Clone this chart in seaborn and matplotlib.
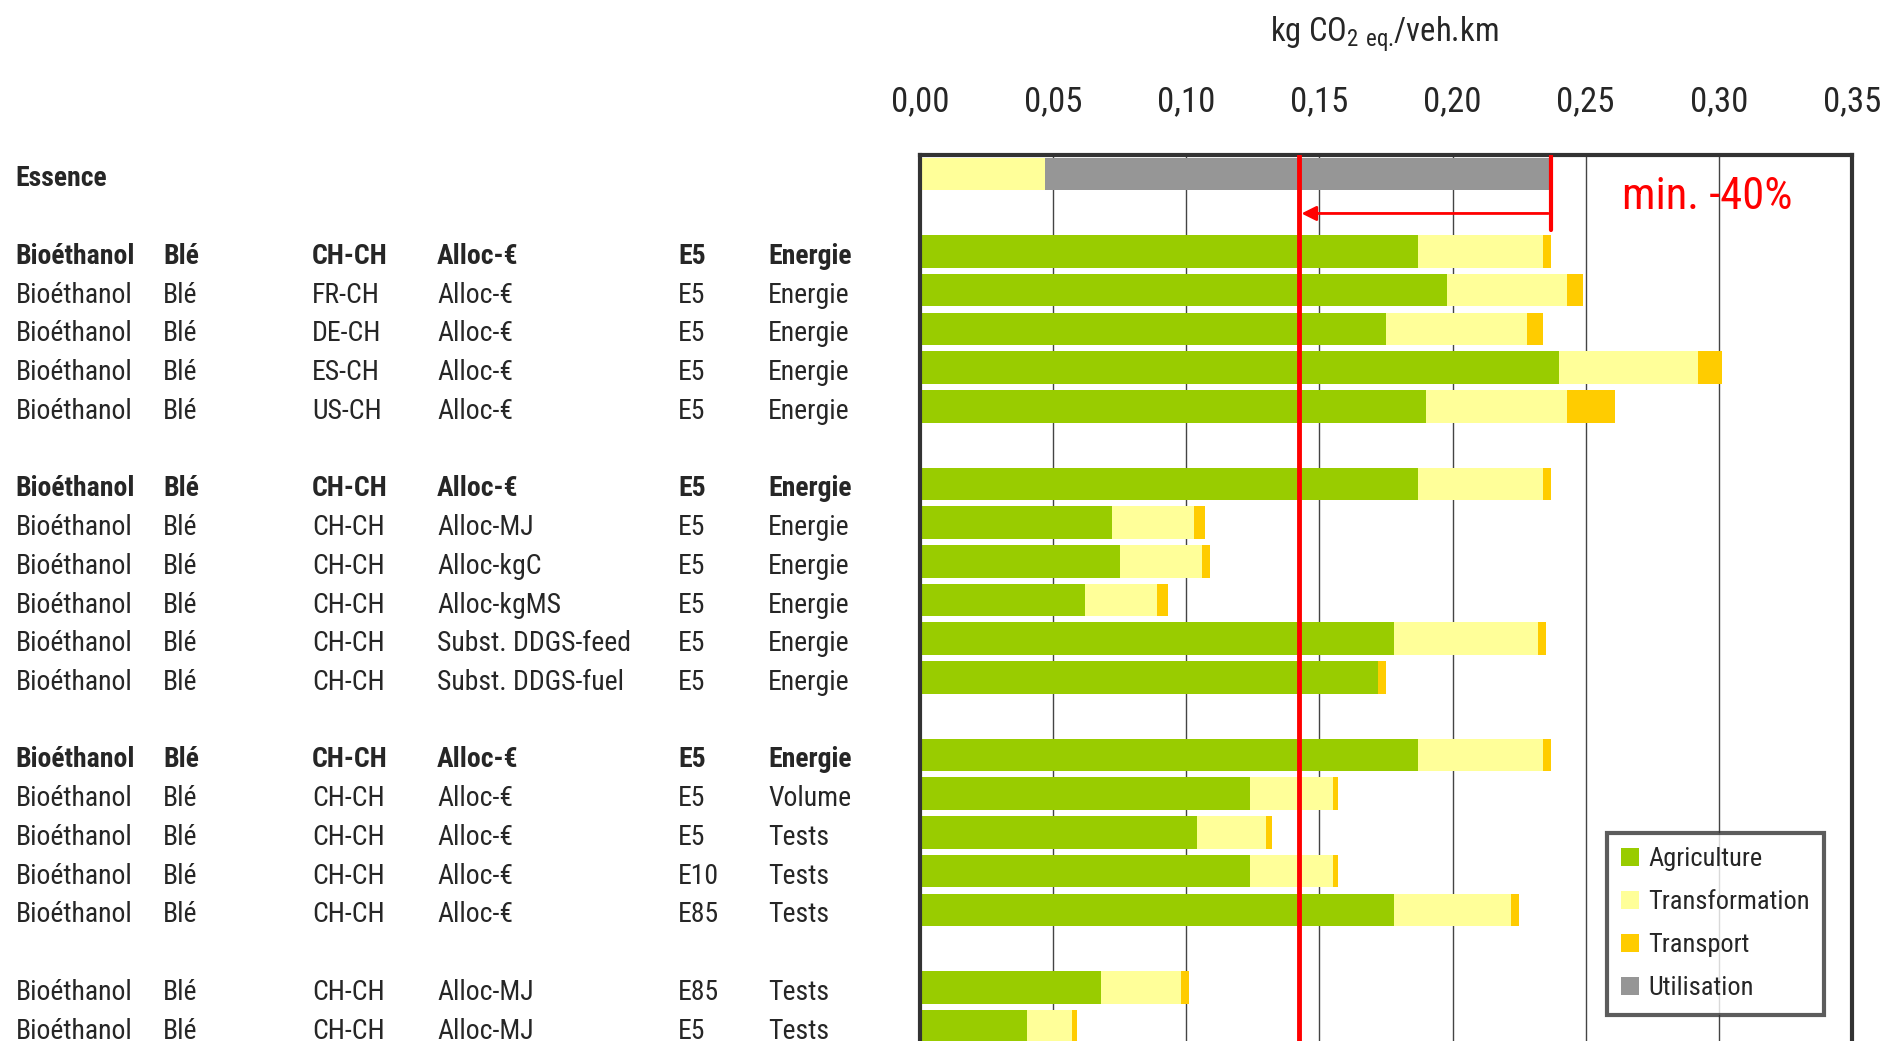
import numpy as np
import pandas as pd
import matplotlib
matplotlib.use('Agg')
import matplotlib.pyplot as plt
import seaborn as sns
from matplotlib import font_manager as fm
from matplotlib.patches import Patch
from matplotlib.transforms import blended_transform_factory

# Data
filiere = ['Essence'] + ['Bioéthanol'] * 18
matiere = [''] + ['Blé'] * 18
origine = ['', 'CH-CH', 'FR-CH', 'DE-CH', 'ES-CH', 'US-CH',
           'CH-CH', 'CH-CH', 'CH-CH', 'CH-CH', 'CH-CH', 'CH-CH',
           'CH-CH', 'CH-CH', 'CH-CH', 'CH-CH', 'CH-CH',
           'CH-CH', 'CH-CH']
allocation = ['', 'Alloc-€', 'Alloc-€', 'Alloc-€', 'Alloc-€', 'Alloc-€',
              'Alloc-€', 'Alloc-MJ', 'Alloc-kgC', 'Alloc-kgMS', 'Subst. DDGS-feed', 'Subst. DDGS-fuel',
              'Alloc-€', 'Alloc-€', 'Alloc-€', 'Alloc-€', 'Alloc-€',
              'Alloc-MJ', 'Alloc-MJ']
melange = ['', 'E5', 'E5', 'E5', 'E5', 'E5',
           'E5', 'E5', 'E5', 'E5', 'E5', 'E5',
           'E5', 'E5', 'E5', 'E10', 'E85',
           'E85', 'E5']
base = ['', 'Energie', 'Energie', 'Energie', 'Energie', 'Energie',
        'Energie', 'Energie', 'Energie', 'Energie', 'Energie', 'Energie',
        'Energie', 'Volume', 'Tests', 'Tests', 'Tests',
        'Tests', 'Tests']
bold_rows = [0, 1, 6, 12]
row_pos = [0, 2, 3, 4, 5, 6, 8, 9, 10, 11, 12, 13, 15, 16, 17, 18, 19, 21, 22]

agriculture = [0.000, 0.187, 0.198, 0.175, 0.240, 0.190,
               0.187, 0.072, 0.075, 0.062, 0.178, 0.172,
               0.187, 0.124, 0.104, 0.124, 0.178,
               0.068, 0.040]
transformation = [0.047, 0.047, 0.045, 0.053, 0.052, 0.053,
                  0.047, 0.031, 0.031, 0.027, 0.054, 0.000,
                  0.047, 0.031, 0.026, 0.031, 0.044,
                  0.030, 0.017]
transport = [0.000, 0.003, 0.006, 0.006, 0.009, 0.018,
             0.003, 0.004, 0.003, 0.004, 0.003, 0.003,
             0.003, 0.002, 0.002, 0.002, 0.003,
             0.003, 0.002]
utilisation = [0.190, 0, 0, 0, 0, 0,
               0, 0, 0, 0, 0, 0,
               0, 0, 0, 0, 0,
               0, 0]

colors = {'Agriculture': '#99CC00', 'Transformation': '#FFFF99',
          'Transport': '#FFCC00', 'Utilisation': '#969696'}

df = pd.DataFrame({'pos': row_pos, 'Agriculture': agriculture,
                   'Transformation': transformation, 'Transport': transport,
                   'Utilisation': utilisation})
cum = df[['Agriculture', 'Transformation', 'Transport', 'Utilisation']].cumsum(axis=1)

# pick a narrow font if one is there
narrow = 'DejaVu Sans'
for cand in ['Liberation Sans Narrow', 'Arial Narrow', 'Roboto Condensed',
             'Open Sans Condensed', 'Noto Sans Condensed', 'DejaVu Sans Condensed']:
    try:
        fm.findfont(cand, fallback_to_default=False)
        narrow = cand
        break
    except ValueError:
        pass

sns.set_style('white')
plt.rcParams['font.family'] = [narrow, 'DejaVu Sans']

fig = plt.figure(figsize=(18.81, 10.41), dpi=100)
ax = fig.add_axes([0.4891, -0.0415, 0.4955, 0.893])

# stacked bars: draw cumulative totals from the back
for comp in ['Utilisation', 'Transport', 'Transformation', 'Agriculture']:
    sns.barplot(x=cum[comp], y=df['pos'], orient='h', native_scale=True,
                width=0.84, color=colors[comp], saturation=1, linewidth=0,
                errorbar=None, ax=ax)

ax.set_xlim(0, 0.35)
ax.set_ylim(23.5, -0.5)
ax.set_xlabel('')
ax.set_ylabel('')
ax.set_yticks([])
ax.xaxis.tick_top()
xt = np.arange(0, 0.351, 0.05)
ax.set_xticks(xt)
ax.set_xticklabels([f'{v:.2f}'.replace('.', ',') for v in xt], fontsize=25)
ax.tick_params(axis='x', length=0, pad=26)
ax.grid(axis='x', color='#444444', linewidth=1)
ax.set_axisbelow(True)
for s in ['top', 'left', 'right']:
    ax.spines[s].set_color('#333333')
    ax.spines[s].set_linewidth(3)
ax.spines['bottom'].set_visible(False)

fig.text(0.736, 0.967, r'kg CO$_{\mathregular{2\ eq.}}\!$/veh.km', fontsize=23.5,
         ha='center', va='center')

# reduction target
essence_total = cum['Utilisation'][0]
target = essence_total * 0.6
ax.axvline(target, color='red', linewidth=3.5, zorder=5)
ax.plot([essence_total, essence_total], [-0.5, 1.45], color='red', linewidth=3, zorder=5)
ax.annotate('', xy=(target, 1.02), xytext=(essence_total, 1.02),
            arrowprops=dict(arrowstyle='-|>', color='red', lw=2, mutation_scale=22), zorder=6)
ax.text(0.2635, 0.6, 'min. -40%', color='red', fontsize=32, va='center', ha='left')

# row labels
trans = blended_transform_factory(fig.transFigure, ax.transData)
col_x = [0.0083, 0.0867, 0.1659, 0.2323, 0.3604, 0.4083]
for i, p in enumerate(row_pos):
    w = 'bold' if i in bold_rows else 'normal'
    for cx, col in zip(col_x, [filiere, matiere, origine, allocation, melange, base]):
        if col[i]:
            ax.text(cx, p + 0.13, col[i], transform=trans, fontsize=20, fontweight=w,
                    ha='left', va='center', clip_on=False)

handles = [Patch(facecolor=colors[k], edgecolor='none', label=k) for k in colors]
leg = fig.legend(handles=handles, loc='upper left', bbox_to_anchor=(0.8543, 0.2),
                 borderaxespad=0, fontsize=19, frameon=True, fancybox=False,
                 edgecolor='#333333', handlelength=0.66, handleheight=0.66,
                 handletextpad=0.35, labelspacing=0.72, borderpad=0.55)
leg.get_frame().set_linewidth(3)

fig.savefig('out.png', dpi=100)
